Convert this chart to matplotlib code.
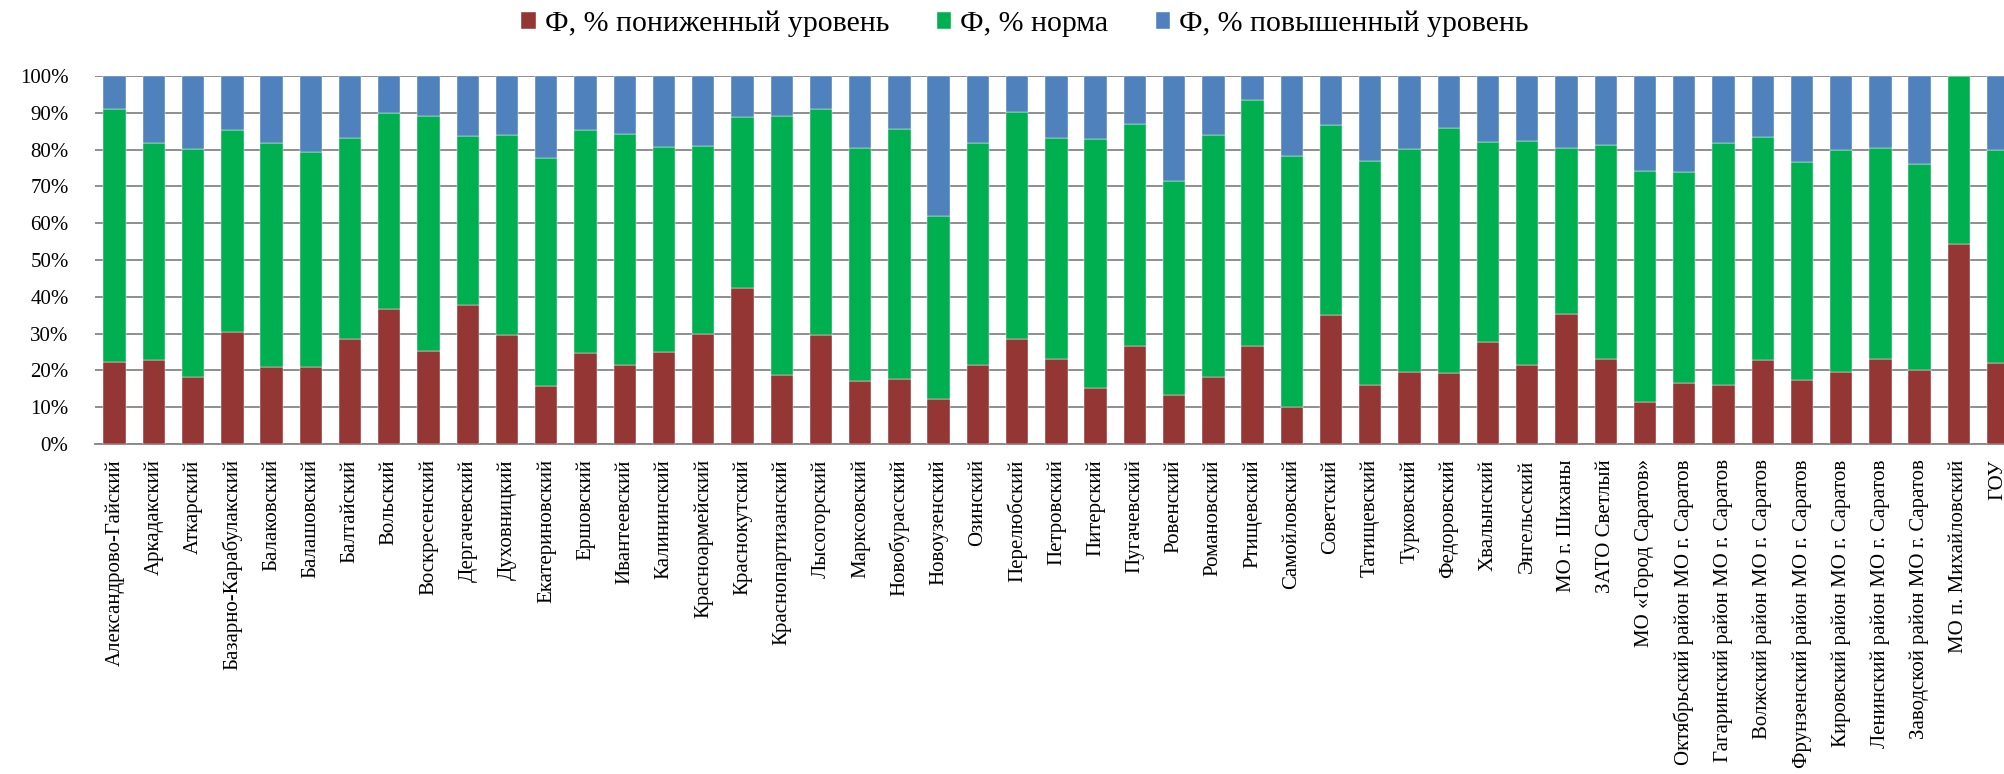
import matplotlib.pyplot as plt
import numpy as np

plt.rcParams.update({
    "font.family": ["Liberation Serif", "DejaVu Serif"],
})

# ── Data (%) ────────────────────────────────────────────────────────────────
districts = [
    "Александрово-Гайский", "Аркадакский", "Аткарский", "Базарно-Карабулакский",
    "Балаковский", "Балашовский", "Балтайский", "Вольский", "Воскресенский",
    "Дергачевский", "Духовницкий", "Екатериновский", "Ершовский", "Ивантеевский",
    "Калининский", "Красноармейский", "Краснокутский", "Краснопартизанский",
    "Лысогорский", "Марксовский", "Новобурасский", "Новоузенский", "Озинский",
    "Перелюбский", "Петровский", "Питерский", "Пугачевский", "Ровенский",
    "Романовский", "Ртищевский", "Самойловский", "Советский", "Татищевский",
    "Турковский", "Федоровский", "Хвалынский", "Энгельсский", "МО г. Шиханы",
    "ЗАТО Светлый", "МО «Город Саратов»", "Октябрьский район МО г. Саратов",
    "Гагаринский район МО г. Саратов", "Волжский район МО г. Саратов",
    "Фрунзенский район МО г. Саратов", "Кировский район МО г. Саратов",
    "Ленинский район МО г. Саратов", "Заводской район МО г. Саратов",
    "МО п. Михайловский", "ГОУ",
]

low = [22.2, 22.8, 18.1, 30.5, 20.8, 20.9, 28.4, 36.8, 25.3, 37.9,
       29.5, 15.8, 24.6, 21.5, 25.1, 30.0, 42.3, 18.8, 29.7, 17.2,
       17.7, 12.2, 21.6, 28.5, 23.0, 15.1, 26.5, 13.2, 18.3, 26.7,
       10.0, 35.0, 15.9, 19.5, 19.3, 27.7, 21.6, 35.4, 23.0, 11.5,
       16.5, 16.0, 22.8, 17.3, 19.7, 23.2, 20.0, 54.4, 22.1]

norm = [68.7, 59.1, 62.0, 54.8, 61.1, 58.5, 54.8, 53.1, 63.9, 45.9,
        54.4, 61.9, 60.6, 62.7, 55.7, 50.9, 46.6, 70.3, 61.4, 63.1,
        68.0, 49.8, 60.3, 61.8, 60.2, 67.8, 60.4, 58.3, 65.7, 66.9,
        68.2, 51.8, 61.0, 60.6, 66.6, 54.4, 60.7, 45.1, 58.3, 62.8,
        57.5, 65.9, 60.6, 59.3, 60.2, 57.3, 56.1, 45.6, 57.7]

high = [9.1, 18.1, 19.9, 14.7, 18.1, 20.6, 16.8, 10.1, 10.8, 16.2,
        16.1, 22.3, 14.8, 15.8, 19.2, 19.1, 11.1, 10.9, 8.9, 19.7,
        14.3, 38.0, 18.1, 9.7, 16.8, 17.1, 13.1, 28.5, 16.0, 6.4,
        21.8, 13.2, 23.1, 19.9, 14.1, 17.9, 17.7, 19.5, 18.7, 25.7,
        26.0, 18.1, 16.6, 23.4, 20.1, 19.5, 23.9, 0.0, 20.2]

series_names = ["Ф, % пониженный уровень", "Ф, % норма", "Ф, % повышенный уровень"]
series_colors = ["#943634", "#00B050", "#4F81BD"]
yticks = [0, 10, 20, 30, 40, 50, 60, 70, 80, 90, 100]

# ── Figure ──────────────────────────────────────────────────────────────────
W, H = 2004, 774
fig = plt.figure(figsize=(W / 100, H / 100), dpi=100)
# plot area runs a little past the right edge, like the cropped original
ax = fig.add_axes([95 / W, (H - 444) / H, 49 * 39.24 / W, (444 - 76) / H])

x = np.arange(len(districts))
bottom = np.zeros(len(districts))
handles = []
for vals, name, col in zip([low, norm, high], series_names, series_colors):
    b = ax.bar(x, vals, bottom=bottom, width=0.57, color=col, label=name,
               edgecolor="white", linewidth=0.3, zorder=3)
    handles.append(b)
    bottom += np.array(vals)

ax.set_xlim(-0.5, len(districts) - 0.5)
ax.set_ylim(0, 100)
ax.set_yticks(yticks)
ax.set_yticklabels([f"{v}%" for v in yticks], fontsize=15)
ax.set_xticks(x)
ax.set_xticklabels(districts, rotation=90, fontsize=15, va="top", ha="center")
ax.tick_params(axis="y", length=0, pad=19)
ax.tick_params(axis="x", length=0, pad=11)

ax.yaxis.grid(True, color="#868686", linewidth=1.3, zorder=0)
ax.set_axisbelow(True)
for s in ["top", "right", "left"]:
    ax.spines[s].set_visible(False)
ax.spines["bottom"].set_color("#868686")
ax.spines["bottom"].set_linewidth(1.3)

fig.legend(handles=handles, labels=series_names, loc="center",
           bbox_to_anchor=(1025 / W, 1 - 24 / H), ncol=3, frameon=False,
           fontsize=21.5, handlelength=0.48, handleheight=0.48,
           handletextpad=0.3, columnspacing=1.6)

fig.savefig("out.png", dpi=100)
